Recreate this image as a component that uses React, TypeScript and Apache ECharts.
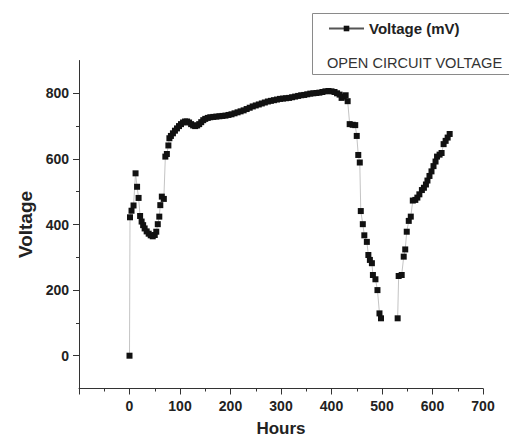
import React, { useEffect, useRef } from "react";
import * as echarts from "echarts";

const hours: number[] = [
  0, 1, 4, 8, 12, 15, 18, 21, 24, 27, 30, 34, 38, 42, 46, 50, 53, 56, 59, 61, 64, 68,
  71, 74, 77, 79, 82, 86, 90, 94, 98, 102, 106, 110, 114, 118, 122, 126, 130, 134, 138,
  142, 146, 150, 155, 160, 166, 172, 178, 184, 190, 196, 202, 208, 214, 220, 226, 232,
  238, 244, 250, 256, 262, 268, 274, 280, 286, 292, 298, 304, 310, 316, 322, 328, 334,
  340, 346, 352, 358, 364, 370, 376, 382, 388, 394, 400, 406, 411, 416, 420, 424, 428,
  432, 436, 442, 447, 450, 453, 456, 458, 462, 465, 470, 473, 476, 480, 482, 487, 491,
  495, 498, 514, 531, 533, 539, 543, 546, 549, 553, 557, 561, 566, 570, 574, 579, 583,
  587, 590, 594, 598, 602, 606, 609, 614, 618, 622, 626, 630, 634,
];

const voltage: (number | null)[] = [
  0, 422, 442, 458, 556, 515, 481, 426, 409, 398, 388, 379, 372, 367, 364, 368, 378, 401,
  424, 459, 485, 478, 607, 615, 641, 663, 670, 678, 686, 693, 700, 706, 711, 714, 714,
  711, 706, 702, 700, 702, 706, 712, 718, 722, 725, 727, 728, 729, 730, 731, 732, 734,
  736, 739, 742, 745, 748, 752, 756, 760, 763, 766, 769, 772, 775, 777, 779, 781, 783,
  784, 785, 786, 788, 790, 792, 794, 795, 797, 799, 800, 801, 802, 804, 806, 807, 806,
  804, 800, 796, 786, 790, 794, 776, 706, 704, 703, 670, 612, 589, 441, 401, 367, 347,
  307, 292, 282, 246, 233, 200, 129, 114, null, 114, 243, 246, 302, 324, 378, 411, 424,
  473, 475, 482, 492, 505, 512, 522, 534, 548, 562, 578, 592, 607, 613, 618, 645, 655,
  665, 676,
];

const xTickLabels: number[] = [0, 100, 200, 300, 400, 500, 600, 700];
const yTickLabels: number[] = [0, 200, 400, 600, 800];
const yMinorTicks: number[] = [100, 300, 500, 700];

const seriesName = "Voltage (mV)";
const noteText = "OPEN CIRCUIT VOLTAGE";

export default function App() {
  const ref = useRef<HTMLDivElement>(null);
  useEffect(() => {
    if (!ref.current) return;
    const chart = echarts.init(ref.current, undefined, { renderer: "svg" });
    const data = hours.map((h, i) => [h, voltage[i] === null ? "-" : voltage[i]]);
    const font = "'Liberation Sans', Arial, sans-serif";
    chart.setOption({
      animation: false,
      backgroundColor: "#ffffff",
      grid: { left: 79, right: 34, top: 60.5, bottom: 53.5, outerBoundsMode: "none", containLabel: false },
      legend: {
        left: 323,
        top: 16,
        itemWidth: 35,
        itemHeight: 7,
        itemGap: 0,
        lineStyle: { color: "#555" },
        textStyle: { fontFamily: font, fontWeight: "bold", fontSize: 15, color: "#222" },
        data: [seriesName],
      },
      graphic: [
        {
          type: "rect",
          shape: { x: 312.5, y: 13.5, width: 203, height: 61 },
          style: { fill: "none", stroke: "#8a8a8a", lineWidth: 1 },
          z: 1,
        },
        {
          type: "text",
          x: 327,
          y: 62.5,
          style: {
            text: noteText,
            fontFamily: font,
            fontSize: 14.6,
            fill: "#333",
            verticalAlign: "middle",
          },
        },
      ],
      xAxis: {
        type: "value",
        min: -100,
        max: 700,
        interval: 100,
        name: "Hours",
        nameLocation: "middle",
        nameGap: 31,
        nameMoveOverlap: false,
        nameTextStyle: { fontFamily: font, fontWeight: "bold", fontSize: 17, color: "#222" },
        axisLine: { onZero: false, lineStyle: { color: "#333", width: 1 } },
        axisTick: { show: true, length: 6, lineStyle: { color: "#333" } },
        minorTick: { show: true, splitNumber: 2, length: 3, lineStyle: { color: "#333" } },
        splitLine: { show: false },
        axisLabel: {
          margin: 10,
          fontFamily: font,
          fontWeight: "bold",
          fontSize: 14,
          color: "#222",
          formatter: (v: number) => (xTickLabels.includes(v) ? String(v) : ""),
        },
      },
      yAxis: [
        {
          type: "value",
          min: -100,
          max: 900,
          interval: 100,
          name: "Voltage",
          nameLocation: "middle",
          nameGap: 44,
          nameMoveOverlap: false,
          nameTextStyle: { fontFamily: font, fontWeight: "bold", fontSize: 19, color: "#222" },
          axisLine: { show: true, onZero: false, lineStyle: { color: "#333", width: 1 } },
          axisTick: { show: true, length: 6, customValues: yTickLabels, lineStyle: { color: "#333" } },
          splitLine: { show: false },
          axisLabel: {
            margin: 10,
            fontFamily: font,
            fontWeight: "bold",
            fontSize: 14,
            color: "#222",
            customValues: yTickLabels,
          },
        },
        {
          type: "value",
          min: -100,
          max: 900,
          interval: 100,
          position: "left",
          axisLine: { show: false, onZero: false },
          axisTick: { show: true, length: 3, customValues: yMinorTicks, lineStyle: { color: "#333" } },
          axisLabel: { show: false },
          splitLine: { show: false },
        },
      ],
      series: [
        {
          name: seriesName,
          type: "line",
          data,
          connectNulls: false,
          symbol: "rect",
          symbolSize: 6,
          itemStyle: { color: "#111" },
          lineStyle: { color: "#c4c4c4", width: 1 },
          z: 3,
        },
      ],
    });
    return () => chart.dispose();
  }, []);
  return <div ref={ref} style={{ width: 517, height: 442, margin: -8 }} />;
}
